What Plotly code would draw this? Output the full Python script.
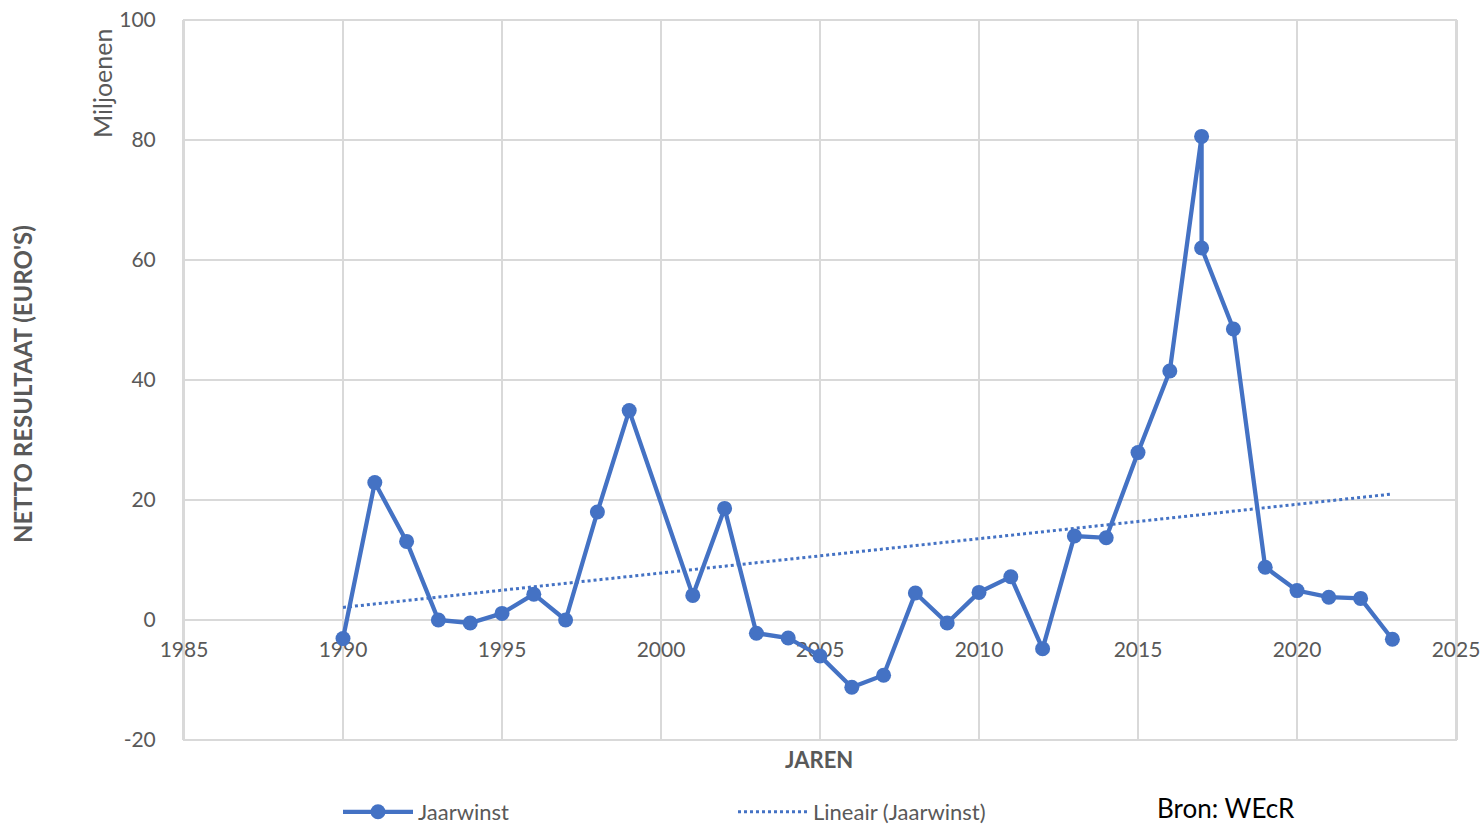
import plotly.graph_objects as go

# ---- data ----
years = [1990, 1991, 1992, 1993, 1994, 1995, 1996, 1997, 1998, 1999,
         2001, 2002, 2003, 2004, 2005, 2006, 2007, 2008, 2009, 2010,
         2011, 2012, 2013, 2014, 2015, 2016, 2017, 2017, 2018, 2019,
         2020, 2021, 2022, 2023]
jaarwinst = [-3.1, 22.9, 13.1, 0.0, -0.5, 1.1, 4.3, 0.0, 18.0, 34.9,
             4.1, 18.6, -2.2, -3.0, -6.0, -11.2, -9.2, 4.5, -0.5, 4.6,
             7.2, -4.8, 14.0, 13.7, 27.9, 41.5, 80.6, 62.0, 48.5, 8.8,
             4.9, 3.8, 3.6, -3.2]
trend_years = [1990, 2023]
trend_values = [2.1, 21.0]

x_ticks = [1985, 1990, 1995, 2000, 2005, 2010, 2015, 2020, 2025]
y_ticks = [-20, 0, 20, 40, 60, 80, 100]
y_tick_labels = ["-20", "0", "20", "40", "60", "80", "100"]

BLUE = "#4472C4"
GRID = "#D9D9D9"
TXT = "#595959"
FONT = "Lato, Open Sans, sans-serif"

y_min, y_max = -20, 100
W, H = 1483, 824
ML, MR, MT, MB = 184, 27, 20, 84
PW = W - ML - MR
PH = H - MT - MB

fig = go.Figure()
fig.add_trace(go.Scatter(
    x=years, y=jaarwinst, mode="lines+markers", name="Jaarwinst",
    line=dict(color=BLUE, width=4.3), marker=dict(color=BLUE, size=15),
))
fig.add_trace(go.Scatter(
    x=trend_years, y=trend_values, mode="lines", name="Lineair (Jaarwinst)",
    line=dict(color=BLUE, width=3, dash="dot"),
))

fig.update_layout(
    width=W, height=H,
    margin=dict(l=ML, r=MR, t=MT, b=MB, autoexpand=False),
    plot_bgcolor="white", paper_bgcolor="white",
    font=dict(family=FONT, size=21, color=TXT),
    xaxis=dict(
        range=[x_ticks[0], x_ticks[-1]], tickvals=x_ticks,
        showgrid=True, gridcolor=GRID, gridwidth=2,
        zeroline=False, showline=True, linecolor=GRID, linewidth=2,
        anchor="free", position=(0 - y_min) / (y_max - y_min),
        ticks="", tickfont=dict(size=21, color=TXT),
        ticklabelstandoff=11, layer="below traces", automargin=False,
    ),
    yaxis=dict(
        range=[y_min, y_max], tickvals=y_ticks, ticktext=y_tick_labels,
        showgrid=True, gridcolor=GRID, gridwidth=2,
        zeroline=False, showline=True, mirror=True, linecolor=GRID, linewidth=2,
        ticks="", tickfont=dict(size=21, color=TXT),
        ticklabelstandoff=22, layer="below traces", automargin=False,
    ),
    legend=dict(
        orientation="h", x=(343 - 5 - ML) / PW, xanchor="left",
        y=(H - 812) / H, yanchor="middle", yref="container",
        itemwidth=70, entrywidth=310, entrywidthmode="pixels",
        font=dict(size=22, color=TXT), bgcolor="rgba(0,0,0,0)",
    ),
    showlegend=True,
)

# plot-area frame (top and bottom edges)
fig.add_shape(type="rect", xref="paper", yref="paper", x0=0, x1=1, y0=0, y1=1,
              line=dict(color=GRID, width=2), layer="below")

fig.add_annotation(text="<b>NETTO RESULTAAT (EURO'S)</b>", xref="paper", yref="paper",
                   x=(22 - ML) / PW, y=(740 - 384) / PH, xanchor="center", yanchor="middle",
                   textangle=-90, showarrow=False, font=dict(size=24, color=TXT))
fig.add_annotation(text="<b>JAREN</b>", xref="paper", yref="paper",
                   x=(819 - ML) / PW, y=(740 - 760) / PH, xanchor="center", yanchor="middle",
                   showarrow=False, font=dict(size=22, color=TXT))
fig.add_annotation(text="Miljoenen", xref="paper", yref="paper",
                   x=(102 - ML) / PW, y=(740 - 84) / PH, xanchor="center", yanchor="middle",
                   textangle=-90, showarrow=False, font=dict(size=25, color=TXT))
fig.add_annotation(text="Bron: WEcR", xref="paper", yref="paper",
                   x=(1155 - ML) / PW, y=(740 - 808) / PH, xanchor="left", yanchor="middle",
                   showarrow=False, font=dict(size=26, color="#000000", family=FONT))

fig.write_html("out.html", config={"displayModeBar": False},
               post_script="document.body.style.margin='0';")
